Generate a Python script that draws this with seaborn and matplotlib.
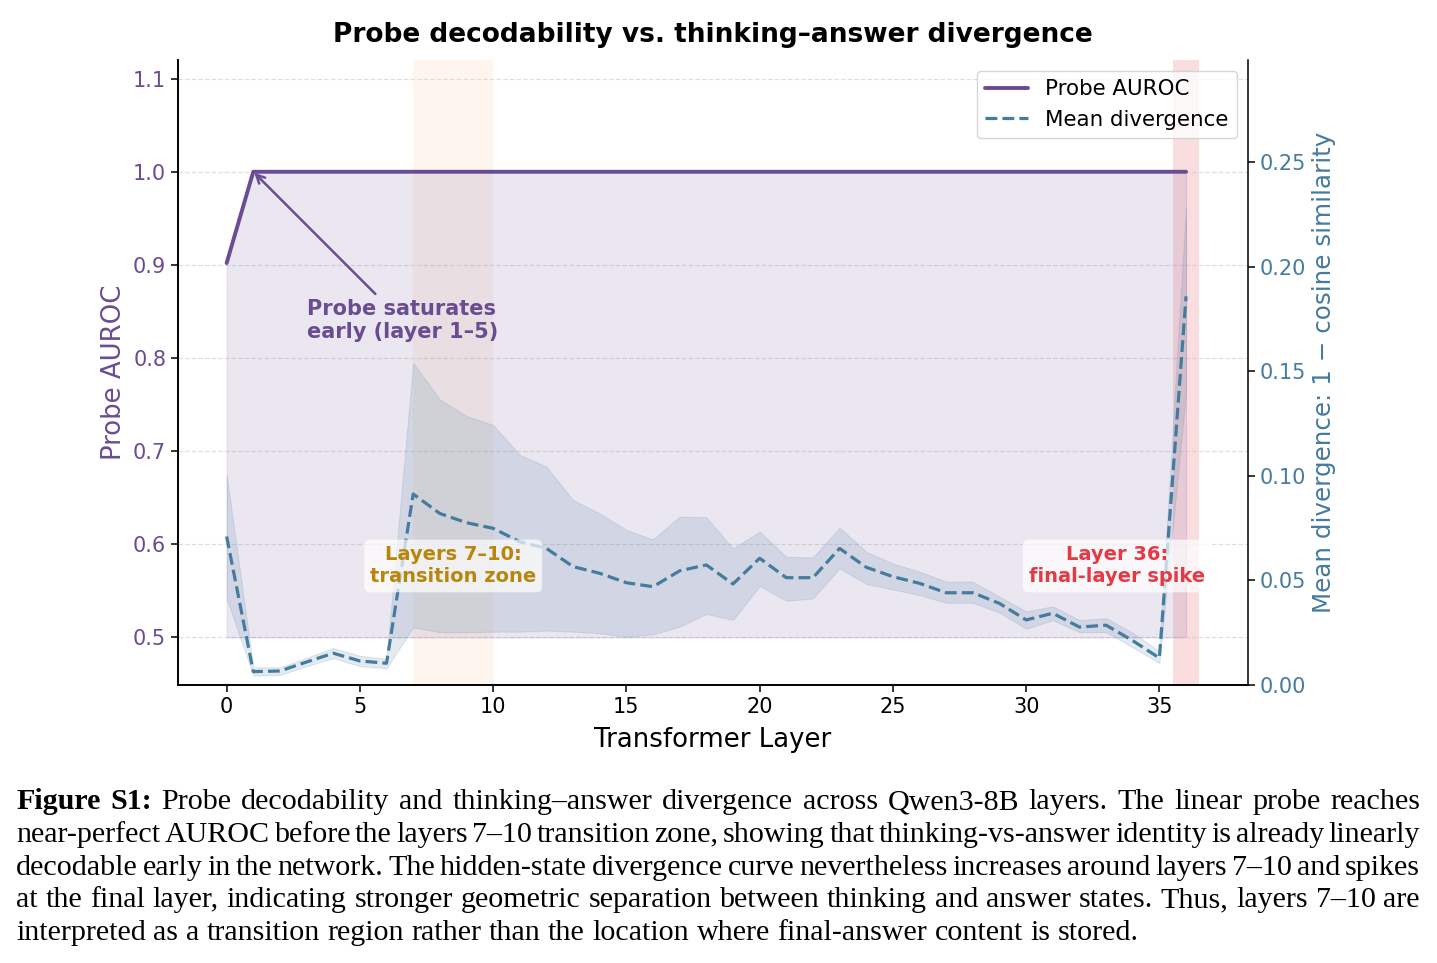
import matplotlib
matplotlib.use("Agg")
import matplotlib.pyplot as plt
import seaborn as sns

# ---------------- data ----------------
layers = list(range(37))
auroc = [0.902, 1.0, 1.0, 1.0, 1.0, 1.0, 1.0, 1.0, 1.0, 1.0,
         1.0, 1.0, 1.0, 1.0, 1.0, 1.0, 1.0, 1.0, 1.0, 1.0,
         1.0, 1.0, 1.0, 1.0, 1.0, 1.0, 1.0, 1.0, 1.0, 1.0,
         1.0, 1.0, 1.0, 1.0, 1.0, 1.0, 1.0]
div_mean = [0.0710, 0.0064, 0.0067, 0.0110, 0.0152, 0.0115, 0.0104, 0.0913, 0.0820, 0.0776,
            0.0749, 0.0685, 0.0653, 0.0566, 0.0534, 0.0489, 0.0470, 0.0546, 0.0574, 0.0483,
            0.0606, 0.0513, 0.0513, 0.0653, 0.0563, 0.0518, 0.0486, 0.0441, 0.0441, 0.0390,
            0.0311, 0.0343, 0.0277, 0.0286, 0.0212, 0.0129, 0.1858]
div_upper = [0.1004, 0.0085, 0.0085, 0.0130, 0.0177, 0.0140, 0.0125, 0.1540, 0.1365, 0.1286,
             0.1243, 0.1100, 0.1044, 0.0884, 0.0820, 0.0741, 0.0696, 0.0805, 0.0802, 0.0653,
             0.0733, 0.0613, 0.0610, 0.0752, 0.0637, 0.0581, 0.0542, 0.0494, 0.0494, 0.0422,
             0.0352, 0.0376, 0.0310, 0.0319, 0.0250, 0.0162, 0.2286]
div_lower = [0.0414, 0.0045, 0.0048, 0.0090, 0.0128, 0.0090, 0.0080, 0.0276, 0.0252, 0.0252,
             0.0255, 0.0255, 0.0260, 0.0255, 0.0247, 0.0231, 0.0242, 0.0279, 0.0340, 0.0311,
             0.0473, 0.0403, 0.0414, 0.0558, 0.0483, 0.0457, 0.0430, 0.0393, 0.0393, 0.0346,
             0.0269, 0.0310, 0.0253, 0.0253, 0.0180, 0.0105, 0.1400]

left_ticks = [0.5, 0.6, 0.7, 0.8, 0.9, 1.0, 1.1]
right_ticks = [0.00, 0.05, 0.10, 0.15, 0.20, 0.25]
x_ticks = [0, 5, 10, 15, 20, 25, 30, 35]

title = "Probe decodability vs. thinking\u2013answer divergence"
caption_lines = [
    "**Figure **S1: Probe decodability and thinking\u2013answer divergence across Qwen3-8B layers. The linear probe reaches",
    "near-perfect AUROC before the layers 7\u201310 transition zone, showing that thinking-vs-answer identity is already linearly",
    "decodable early in the network. The hidden-state divergence curve nevertheless increases around layers 7\u201310 and spikes",
    "at the final layer, indicating stronger geometric separation between thinking and answer states. Thus, layers 7\u201310 are",
    "interpreted as a transition region rather than the location where final-answer content is stored.",
]

# ---------------- style ----------------
sns.set_theme(style="ticks")
plt.rcParams['font.family'] = ['DejaVu Sans']
plt.rcParams['axes.edgecolor'] = 'black'
plt.rcParams['xtick.color'] = 'black'
plt.rcParams['ytick.color'] = 'black'
plt.rcParams['text.color'] = 'black'
plt.rcParams['axes.labelcolor'] = 'black'

PURPLE = '#6a4c93'
BLUE = '#457b9d'
GOLD = '#b8860b'
RED = '#e63946'

W, H = 1437, 963
fig = plt.figure(figsize=(W / 100, H / 100), dpi=100)
ax = fig.add_axes([178 / W, 1 - 685 / H, (1248 - 178) / W, (685 - 60) / H])
ax2 = ax.twinx()

# shaded zones
ax.axvspan(7, 10, color='#f4a261', alpha=0.10, lw=0, zorder=0)
ax.axvspan(35.5, 36.5, color=RED, alpha=0.17, lw=0, zorder=0)

# AUROC
ax.fill_between(layers, 0.5, auroc, color=PURPLE, alpha=0.13, lw=0.8, zorder=1)
sns.lineplot(x=layers, y=auroc, ax=ax, color=PURPLE, lw=2.8, zorder=3)

# divergence
ax2.fill_between(layers, div_lower, div_upper, color=BLUE, alpha=0.15, lw=0.8, zorder=1)
sns.lineplot(x=layers, y=div_mean, ax=ax2, color=BLUE, lw=2.3, linestyle='--', zorder=3)

ax.set_xlim(-1.825, 38.325)
ax.set_ylim(0.449, 1.12)
ax2.set_ylim(0.0, 0.2988)
ax.set_xticks(x_ticks)
ax.set_yticks(left_ticks)
ax.set_yticklabels([f"{v:.1f}" for v in left_ticks])
ax2.set_yticks(right_ticks)
ax2.set_yticklabels([f"{v:.2f}" for v in right_ticks])

ax.grid(axis='y', linestyle='--', color='#cccccc', alpha=0.6, lw=0.9)
ax.tick_params(axis='x', labelsize=15, labelcolor='black', length=5, width=1.1)
ax.tick_params(axis='y', labelsize=15, labelcolor=PURPLE, length=5, width=1.1)
ax2.tick_params(axis='y', labelsize=15, labelcolor=BLUE, length=5, width=1.1)

for a in (ax, ax2):
    a.spines['top'].set_visible(False)
ax.spines['right'].set_visible(False)
for s in ('left', 'bottom'):
    ax.spines[s].set_linewidth(1.1)
ax2.spines['right'].set_linewidth(1.1)

ax.set_xlabel("Transformer Layer", fontsize=18.7, color='black', labelpad=7.5)
ax.set_ylabel("Probe AUROC", fontsize=18.7, color=PURPLE)
ax2.set_ylabel("Mean divergence: 1 \u2212 cosine similarity", fontsize=17.7, color=BLUE)
ax.set_title(title, fontsize=19, fontweight='bold', pad=13, color='black')

# annotations
ax.annotate("Probe saturates\nearly (layer 1\u20135)", xy=(1, 1.0), xytext=(3.0, 0.84),
            ha='left', va='center', fontsize=15, fontweight='bold', color=PURPLE,
            arrowprops=dict(arrowstyle='->', color=PURPLE, lw=1.8, shrinkA=2, shrinkB=1))

box = dict(boxstyle='round,pad=0.3', fc='white', ec='none', alpha=0.7)
ax2.text(8.5, 0.0569, "Layers 7\u201310:\ntransition zone", ha='center', va='center',
         fontsize=14, fontweight='bold', color=GOLD, bbox=box, zorder=5)
ax2.text(33.4, 0.0569, "Layer 36:\nfinal-layer spike", ha='center', va='center',
         fontsize=14, fontweight='bold', color=RED, bbox=box, zorder=5)

# legend
h1 = ax.get_lines()[0]
h2 = ax2.get_lines()[0]
leg = ax2.legend([h1, h2], ["Probe AUROC", "Mean divergence"], loc='upper right',
                 fontsize=15.4, frameon=True, borderaxespad=0.5)
leg.get_frame().set_edgecolor('#cccccc')
for t in leg.get_texts():
    t.set_color('black')

# caption (justified)
renderer = fig.canvas.get_renderer()
x_left, x_right = 16, 1420
fs = 21.6
for i, line in enumerate(caption_lines):
    ybase = 809 + i * 32.75
    tokens = []
    rest = line
    if line.startswith("**"):
        end = line.index(" **")
        bold_part = line[2:end]
        rest = line[end + 3:]
        first, rest = rest.split(" ", 1)
        for w in (bold_part.split(" ") + [first]):
            tokens.append((w, True))
    for w in rest.split(" "):
        tokens.append((w, False))
    texts = []
    for word, bold in tokens:
        t = fig.text(0, 1 - ybase / H, word, fontsize=fs, family='Liberation Serif',
                     fontweight='bold' if bold else 'normal', va='baseline', ha='left',
                     color='black')
        texts.append(t)
    widths = [t.get_window_extent(renderer).width for t in texts]
    if i < len(caption_lines) - 1:
        gap = (x_right - x_left - sum(widths)) / (len(texts) - 1)
    else:
        gap = 0.25 * fs * 100 / 72
    x = x_left
    for t, w in zip(texts, widths):
        t.set_x(x / W)
        x += w + gap

fig.savefig("out.png", dpi=100)
